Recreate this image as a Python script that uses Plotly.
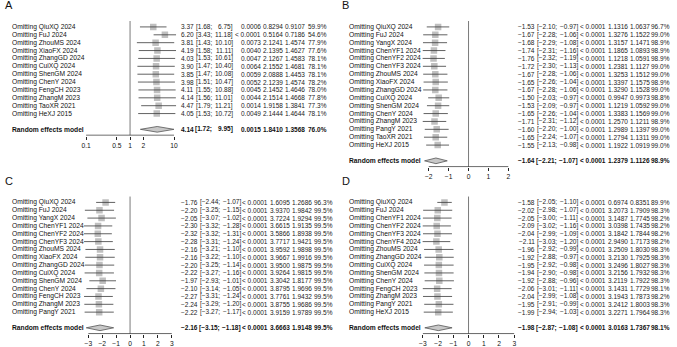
import math
import plotly.graph_objects as go

W, H = 677, 347
FONT = "Liberation Sans, Arial, sans-serif"
FS = 6.7
FS_NUM = 6.5

# ---------------- Panel A (odds ratio) ----------------
a_studies = ["QiuXQ 2024", "FuJ 2024", "ZhouMS 2024", "XiaoFX 2024", "ZhangGD 2024",
             "CuiXQ 2024", "ShenGM 2024", "ChenY 2024", "FengCH 2023", "ZhangM 2023",
             "TaoXR 2021", "HeXJ 2015"]
a_est = [3.37, 6.20, 3.81, 4.19, 4.03, 3.90, 3.85, 3.98, 4.11, 4.14, 4.47, 4.05]
a_lo = [1.68, 3.43, 1.43, 1.58, 1.53, 1.47, 1.47, 1.51, 1.55, 1.56, 1.79, 1.53]
a_hi = [6.75, 11.18, 10.10, 11.11, 10.61, 10.40, 10.08, 10.47, 10.88, 11.01, 11.21, 10.72]
a_p = ["0.0006", "< 0.0001", "0.0073", "0.0040", "0.0047", "0.0064", "0.0059", "0.0052",
       "0.0045", "0.0044", "0.0014", "0.0049"]
a_tau2 = [0.8294, 0.5164, 2.1241, 2.1395, 2.1267, 2.1552, 2.0888, 2.1239, 2.1452, 2.1514, 1.9158, 2.1444]
a_tau = [0.9107, 0.7186, 1.4574, 1.4627, 1.4583, 1.4681, 1.4453, 1.4574, 1.4646, 1.4668, 1.3841, 1.4644]
a_i2 = [59.9, 54.6, 77.9, 77.6, 78.1, 78.1, 78.1, 78.2, 78.0, 77.8, 77.3, 78.1]
a_pooled = [4.14, 1.72, 9.95]
a_pooled_stats = ["0.0015", 1.8410, 1.3568, 76.0]
a_ticks = [0.1, 0.5, 1, 2, 10]
a_ticktext = ["0.1", "0.5", "1", "2", "10"]

# ---------------- Panel B (mean difference) ----------------
b_studies = ["QiuXQ 2024", "FuJ 2024", "YangX 2024", "ChenYF1 2024", "ChenYF2 2024",
             "ChenYF3 2024", "ZhouMS 2024", "XiaoFX 2024", "ZhangGD 2024", "CuiXQ 2024",
             "ShenGM 2024", "ChenY 2024", "ZhangM 2023", "PangY 2021", "TaoXR 2021", "HeXJ 2015"]
b_est = [-1.53, -1.67, -1.68, -1.74, -1.76, -1.72, -1.67, -1.65, -1.67, -1.50, -1.53, -1.65,
         -1.71, -1.60, -1.65, -1.55]
b_lo = [-2.10, -2.28, -2.29, -2.31, -2.32, -2.30, -2.28, -2.26, -2.28, -2.03, -2.09, -2.26,
        -2.31, -2.20, -2.24, -2.13]
b_hi = [-0.97, -1.06, -1.08, -1.16, -1.19, -1.13, -1.06, -1.04, -1.06, -0.97, -0.97, -1.04,
        -1.12, -1.00, -1.07, -0.98]
b_p = ["< 0.0001"] * 16
b_tau2 = [1.1316, 1.3276, 1.3157, 1.1865, 1.1218, 1.2381, 1.3253, 1.3397, 1.3290, 0.9947,
          1.1219, 1.3383, 1.2570, 1.2989, 1.2794, 1.1922]
b_tau = [1.0637, 1.1522, 1.1471, 1.0893, 1.0591, 1.1127, 1.1512, 1.1575, 1.1528, 0.9973,
         1.0592, 1.1569, 1.1211, 1.1397, 1.1311, 1.0919]
b_i2 = [96.7, 99.0, 98.9, 98.9, 98.9, 99.0, 99.0, 98.9, 99.0, 98.8, 99.0, 99.0, 98.9, 99.0, 99.0, 99.0]
b_pooled = [-1.64, -2.21, -1.07]
b_pooled_stats = ["< 0.0001", 1.2379, 1.1126, 98.9]
b_ticks = [-2, -1, 0, 1, 2]
b_ticktext = ["\u22122", "\u22121", "0", "1", "2"]

# ---------------- Panel C (mean difference) ----------------
c_studies = ["QiuXQ 2024", "FuJ 2024", "YangX 2024", "ChenYF1 2024", "ChenYF2 2024",
             "ChenYF3 2024", "ZhouMS 2024", "XiaoFX 2024", "ZhangGD 2024", "CuiXQ 2024",
             "ShenGM 2024", "ChenY 2024", "FengCH 2023", "ZhangM 2023", "PangY 2021"]
c_est = [-1.76, -2.20, -2.05, -2.30, -2.32, -2.28, -2.16, -2.16, -2.20, -2.22, -1.97, -2.10,
         -2.27, -2.24, -2.22]
c_lo = [-2.44, -3.25, -3.07, -3.32, -3.32, -3.31, -3.21, -3.22, -3.25, -3.27, -2.93, -3.14,
        -3.31, -3.29, -3.27]
c_hi = [-1.07, -1.15, -1.02, -1.28, -1.31, -1.24, -1.10, -1.10, -1.14, -1.16, -1.01, -1.05,
        -1.24, -1.20, -1.17]
c_p = ["< 0.0001"] * 15
c_tau2 = [1.6095, 3.9370, 3.7224, 3.6615, 3.5866, 3.7717, 3.9592, 3.9667, 3.9500, 3.9264,
          3.3042, 3.8795, 3.7761, 3.8755, 3.9159]
c_tau = [1.2686, 1.9842, 1.9294, 1.9135, 1.8938, 1.9421, 1.9898, 1.9916, 1.9875, 1.9815,
         1.8177, 1.9696, 1.9432, 1.9686, 1.9789]
c_i2 = [96.3, 99.5, 99.5, 99.5, 99.5, 99.5, 99.5, 99.5, 99.5, 99.5, 99.5, 99.5, 99.5, 99.5, 99.5]
c_pooled = [-2.16, -3.15, -1.18]
c_pooled_stats = ["< 0.0001", 3.6663, 1.9148, 99.5]
c_ticks = [-3, -2, -1, 0, 1, 2, 3]
c_ticktext = ["\u22123", "\u22122", "\u22121", "0", "1", "2", "3"]

# ---------------- Panel D (mean difference) ----------------
d_studies = ["QiuXQ 2024", "FuJ 2024", "ChenYF1 2024", "ChenYF2 2024", "ChenYF3 2024",
             "ChenYF4 2024", "ZhouMS 2024", "ZhangGD 2024", "CuiXQ 2024", "ShenGM 2024",
             "ChenY 2024", "FengCH 2023", "ZhangM 2023", "PangY 2021", "HeXJ 2015"]
d_est = [-1.58, -2.02, -2.05, -2.09, -2.04, -2.11, -1.96, -1.92, -1.95, -1.94, -1.92, -2.06,
         -2.04, -1.95, -1.99]
d_lo = [-2.05, -2.98, -3.00, -3.02, -2.99, -3.03, -2.92, -2.88, -2.92, -2.90, -2.88, -3.01,
        -2.99, -2.91, -2.94]
d_hi = [-1.10, -1.07, -1.11, -1.16, -1.09, -1.20, -0.99, -0.97, -0.98, -0.98, -0.96, -1.11,
        -1.08, -0.99, -1.03]
d_p = ["< 0.0001"] * 15
d_tau2 = [0.6974, 3.2073, 3.1487, 3.0398, 3.1842, 2.9490, 3.2509, 3.2130, 3.2496, 3.2156,
          3.2119, 3.1431, 3.1943, 3.2412, 3.2271]
d_tau = [0.8351, 1.7909, 1.7745, 1.7435, 1.7844, 1.7173, 1.8030, 1.7925, 1.8027, 1.7932,
         1.7922, 1.7729, 1.7873, 1.8003, 1.7964]
d_i2 = [89.9, 98.3, 98.2, 98.2, 98.2, 98.2, 98.3, 98.3, 98.3, 98.3, 98.3, 98.1, 98.2, 98.3, 98.3]
d_pooled = [-1.98, -2.87, -1.08]
d_pooled_stats = ["< 0.0001", 3.0163, 1.7367, 98.1]
d_ticks = [-3, -2, -1, 0, 1, 2, 3]
d_ticktext = ["\u22123", "\u22122", "\u22121", "0", "1", "2", "3"]

# ---------------- layout helpers ----------------
panels = [
    dict(letter="A", studies=a_studies, est=a_est, lo=a_lo, hi=a_hi, p=a_p, tau2=a_tau2, tau=a_tau,
         i2=a_i2, pooled=a_pooled, pstats=a_pooled_stats, ticks=a_ticks, ticktext=a_ticktext,
         log=True, col="OR", title="Odds Ratio", xoff=0, row0=27, sp=7.9, zero=128),
    dict(letter="B", studies=b_studies, est=b_est, lo=b_lo, hi=b_hi, p=b_p, tau2=b_tau2, tau=b_tau,
         i2=b_i2, pooled=b_pooled, pstats=b_pooled_stats, ticks=b_ticks, ticktext=b_ticktext,
         log=False, col="MD", title="Mean Difference", xoff=340, row0=27, sp=7.9, zero=129),
    dict(letter="C", studies=c_studies, est=c_est, lo=c_lo, hi=c_hi, p=c_p, tau2=c_tau2, tau=c_tau,
         i2=c_i2, pooled=c_pooled, pstats=c_pooled_stats, ticks=c_ticks, ticktext=c_ticktext,
         log=False, col="MD", title="Mean Difference", xoff=0, row0=203, sp=7.86, zero=128),
    dict(letter="D", studies=d_studies, est=d_est, lo=d_lo, hi=d_hi, p=d_p, tau2=d_tau2, tau=d_tau,
         i2=d_i2, pooled=d_pooled, pstats=d_pooled_stats, ticks=d_ticks, ticktext=d_ticktext,
         log=False, col="MD", title="Mean Difference", xoff=340, row0=203, sp=7.86, zero=129),
]

HALF_W = 46.5  # half plot width in px


def num(v):
    s = f"{v:.2f}"
    return s.replace("-", "\u2212")


fig = go.Figure()
annotations = []
layout_axes = {}

for k, P in enumerate(panels):
    idx = "" if k == 0 else str(k + 1)
    xa, ya = "x" + idx, "y" + idx
    n = len(P["studies"])
    sp, row0, xoff = P["sp"], P["row0"], P["xoff"]
    rows = list(range(n))
    re_row = n + 1
    axis_row = n + 1.75
    axis_px = row0 + axis_row * sp
    top_px = row0 - 1.2 * sp
    bot_px = axis_px + 0.6
    ydom = [1 - bot_px / H, 1 - top_px / H]
    yrange = [(bot_px - row0) / sp, (top_px - row0) / sp]

    # x scale: symmetric around the null, as R meta does
    if P["log"]:
        vals = [abs(math.log10(v)) for v in P["lo"] + P["hi"]]
    else:
        vals = [abs(v) for v in P["lo"] + P["hi"]]
    m = max(vals)
    zpx = xoff + P["zero"]
    xdom = [(zpx - HALF_W) / W, (zpx + HALF_W) / W]
    xrange = [-m, m]
    ref = 1 if P["log"] else 0

    layout_axes["xaxis" + idx] = dict(
        domain=xdom, range=xrange, type="log" if P["log"] else "linear", anchor=ya,
        showline=False, showgrid=False, zeroline=False, ticks="outside", ticklen=3,
        tickwidth=0.8, tickcolor="#222", tickvals=P["ticks"], ticktext=P["ticktext"],
        tickfont=dict(family=FONT, size=FS, color="#111"), fixedrange=True)
    layout_axes["yaxis" + idx] = dict(
        domain=ydom, range=yrange, visible=False, anchor=xa, fixedrange=True)

    # reference (null) line
    fig.add_trace(go.Scatter(x=[ref, ref], y=[-0.75, axis_row], mode="lines",
                             line=dict(color="#7a7a7a", width=1), xaxis=xa, yaxis=ya,
                             hoverinfo="skip", showlegend=False))
    # study squares
    fig.add_trace(go.Scatter(x=P["est"], y=rows, mode="markers",
                             marker=dict(symbol="square", size=6.5, color="#bfbfbf",
                                         line=dict(width=0)),
                             xaxis=xa, yaxis=ya, hoverinfo="skip", showlegend=False))
    # confidence intervals
    cx, cy = [], []
    for r, lo, hi in zip(rows, P["lo"], P["hi"]):
        cx += [lo, hi, None]
        cy += [r, r, None]
    fig.add_trace(go.Scatter(x=cx, y=cy, mode="lines", line=dict(color="#3a3a3a", width=0.8),
                             xaxis=xa, yaxis=ya, hoverinfo="skip", showlegend=False))
    # pooled diamond
    pe, plo, phi = P["pooled"]
    h = 0.36
    fig.add_trace(go.Scatter(x=[plo, pe, phi, pe, plo], y=[re_row, re_row - h, re_row, re_row + h, re_row],
                             mode="lines", fill="toself", fillcolor="#c8c8c8",
                             line=dict(color="#555", width=0.8), xaxis=xa, yaxis=ya,
                             hoverinfo="skip", showlegend=False))
    # axis baseline between outer ticks
    fig.add_trace(go.Scatter(x=[P["ticks"][0], P["ticks"][-1]], y=[axis_row, axis_row], mode="lines",
                             line=dict(color="#222", width=0.8), xaxis=xa, yaxis=ya,
                             hoverinfo="skip", showlegend=False))

    def ann(text, xpx, row, anchor="left", bold=False, color="#111", size=FS):
        annotations.append(dict(
            text=f"<b>{text}</b>" if bold else text, x=xpx / W, xref="paper", y=row, yref=ya,
            xanchor=anchor, yanchor="middle", showarrow=False, borderpad=0,
            font=dict(family=FONT, size=size, color=color)))

    annotations.append(dict(text=P["letter"], x=(xoff + 1) / W, xref="paper",
                            y=1 - (row0 - 21.5) / H, yref="paper", xanchor="left",
                            yanchor="middle", showarrow=False, borderpad=0,
                            font=dict(family=FONT, size=11, color="#111")))
    hr = -1.95
    ann("Study", xoff + 8, hr, bold=True)
    ann(P["title"], zpx, hr, anchor="center", bold=True)

    if P["log"]:
        c_est_r, c_lo_r, c_ci_r, c_p_r, c_t2_r, c_t_r, c_i2_r = 193, 212, 232.5, 260.5, 283, 305.5, 327
    else:
        c_est_r, c_lo_r, c_ci_r, c_p_r, c_t2_r, c_t_r, c_i2_r = 197, 219.5, 240.5, 268, 290.5, 312.5, 333
    c_est_r += xoff; c_lo_r += xoff; c_ci_r += xoff; c_p_r += xoff
    c_t2_r += xoff; c_t_r += xoff; c_i2_r += xoff

    ann(P["col"], c_est_r, hr, anchor="right", bold=True)
    ann("95%\u2212CI", (c_est_r + c_ci_r) / 2 + 6, hr, anchor="center", bold=True)
    ann("P\u2212value", c_p_r, hr, anchor="right", bold=True)
    ann("Tau2", c_t2_r, hr, anchor="right", bold=True)
    ann("Tau", c_t_r, hr, anchor="right", bold=True)
    ann("I2", c_i2_r, hr, anchor="right", bold=True)

    for r in rows:
        ann("Omitting " + P["studies"][r], xoff + 8, r)
        ann(num(P["est"][r]), c_est_r, r, anchor="right", color="#222", size=FS_NUM)
        ann("[" + num(P["lo"][r]) + ";", c_lo_r, r, anchor="right", color="#222", size=FS_NUM)
        ann(num(P["hi"][r]) + "]", c_ci_r, r, anchor="right", color="#222", size=FS_NUM)
        ann(P["p"][r], c_p_r, r, anchor="right", color="#222", size=FS_NUM)
        ann(f"{P['tau2'][r]:.4f}", c_t2_r, r, anchor="right", color="#222", size=FS_NUM)
        ann(f"{P['tau'][r]:.4f}", c_t_r, r, anchor="right", color="#222", size=FS_NUM)
        ann(f"{P['i2'][r]:.1f}%", c_i2_r, r, anchor="right", color="#222", size=FS_NUM)

    ps = P["pstats"]
    ann("Random effects model", xoff + 8, re_row, bold=True)
    ann(num(pe), c_est_r, re_row, anchor="right", bold=True, size=FS_NUM)
    ann("[" + num(plo) + ";", c_lo_r, re_row, anchor="right", bold=True, size=FS_NUM)
    ann(num(phi) + "]", c_ci_r, re_row, anchor="right", bold=True, size=FS_NUM)
    ann(ps[0], c_p_r, re_row, anchor="right", bold=True, size=FS_NUM)
    ann(f"{ps[1]:.4f}", c_t2_r, re_row, anchor="right", bold=True, size=FS_NUM)
    ann(f"{ps[2]:.4f}", c_t_r, re_row, anchor="right", bold=True, size=FS_NUM)
    ann(f"{ps[3]:.1f}%", c_i2_r, re_row, anchor="right", bold=True, size=FS_NUM)

fig.update_layout(
    width=W, height=H, margin=dict(l=0, r=0, t=0, b=0),
    paper_bgcolor="white", plot_bgcolor="rgba(0,0,0,0)",
    font=dict(family=FONT, size=FS, color="#111"),
    showlegend=False, annotations=annotations, **layout_axes)

fig.write_html("out.html", config={"displayModeBar": False},
               post_script="document.body.style.margin='0px';document.body.style.overflow='hidden';")
